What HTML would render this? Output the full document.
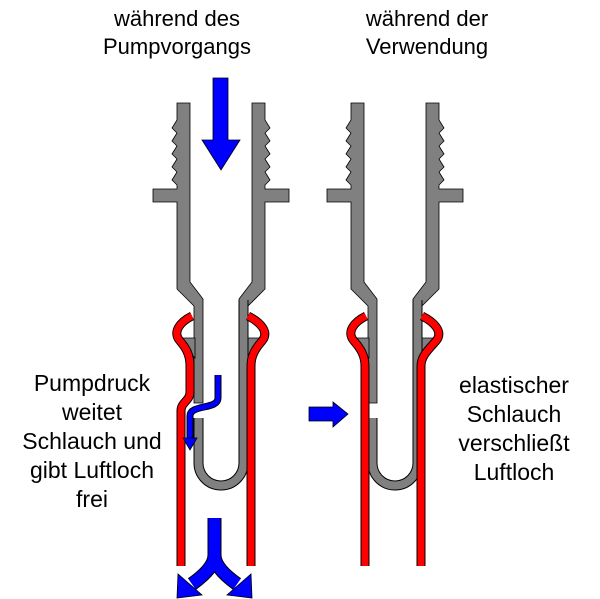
<!DOCTYPE html>
<html><head><meta charset="utf-8"><style>
html,body{margin:0;padding:0;background:#fff;}
svg{display:block;}
text{font-family:"Liberation Sans",sans-serif;font-size:22px;fill:#000;text-anchor:middle;}
</style></head><body>
<svg width="600" height="599" viewBox="0 0 600 599" xmlns="http://www.w3.org/2000/svg">
<defs>
<g id="lwall">
<polygon points="177,103 190,103 190,282 203,299 203,403 194,403 194,306 177,289 177,202 153,202 153,189 177,189 177,185 172,180 177,172 172,167 177,159 172,154 177,146 172,141 177,133 172,128 177,120 177,103" fill="#808080" stroke="#000" stroke-width="0.8"/>
<polygon points="177,338 195,338 195,358" fill="#808080" stroke="#000" stroke-width="0.8"/>
</g>
<g id="rwall">
<polygon points="265,103 252,103 252,282 239,299 239,306 248,306 265,289 265,202 289,202 289,189 265,189 265,185 270,180 265,172 270,167 265,159 270,154 265,146 270,141 265,133 270,128 265,120 265,103" fill="#808080" stroke="#000" stroke-width="0.8"/>
<polygon points="265,338 247,338 247,358" fill="#808080" stroke="#000" stroke-width="0.8"/>
</g>
<path id="u" d="M198.5,418 L198.5,463 A22.5,22.5 0 0 0 243.5,463 L243.5,300" fill="none"/>
</defs>

<!-- device 1 -->
<use href="#lwall"/>
<use href="#rwall"/>
<use href="#u" stroke="#000" stroke-width="10"/>
<use href="#u" stroke="#808080" stroke-width="8"/>
<g fill="none">
<path d="M192,316 C180,322 172,332 180,341 C187,349 190,356 190,366 L190,392 C190,401 181,402 181,411 L181,566" stroke="#000" stroke-width="9"/>
<path d="M192,316 C180,322 172,332 180,341 C187,349 190,356 190,366 L190,392 C190,401 181,402 181,411 L181,566" stroke="#f00" stroke-width="7"/>
<path d="M248,316 C260,322 270,332 262,341 C255,349 251,356 251,366 L251,566" stroke="#000" stroke-width="9"/>
<path d="M248,316 C260,322 270,332 262,341 C255,349 251,356 251,366 L251,566" stroke="#f00" stroke-width="7"/>
</g>

<!-- device 2 -->
<g transform="translate(174,0)">
<use href="#lwall"/>
<use href="#rwall"/>
<use href="#u" stroke="#000" stroke-width="10"/>
<use href="#u" stroke="#808080" stroke-width="8"/>
</g>
<g fill="none">
<path d="M366,316 C354,322 346,332 354,341 C361,349 365,356 365,366 L365,566" stroke="#000" stroke-width="9"/>
<path d="M366,316 C354,322 346,332 354,341 C361,349 365,356 365,366 L365,566" stroke="#f00" stroke-width="7"/>
<path d="M422,316 C434,322 444,332 436,341 C429,349 421,356 421,366 L421,566" stroke="#000" stroke-width="9"/>
<path d="M422,316 C434,322 444,332 436,341 C429,349 421,356 421,366 L421,566" stroke="#f00" stroke-width="7"/>
</g>

<!-- blue arrows -->
<polygon points="213,78 228,78 228,140 240,140 221,170 202,140 213,140" fill="#00f" stroke="#000" stroke-width="0.8"/>
<path d="M218,375 L218,398 C218,410 190,404 190,416 L190,440" fill="none" stroke="#000" stroke-width="7"/>
<path d="M218,375 L218,398 C218,410 190,404 190,416 L190,440" fill="none" stroke="#00f" stroke-width="5"/>
<polygon points="183,438 197,438 190,450" fill="#00f" stroke="#000" stroke-width="0.8"/>
<path d="M214.5,518 L214.5,555 Q214.5,568 192,584 M214.5,555 Q214.5,568 237,584" fill="none" stroke="#000" stroke-width="14"/>
<path d="M214.5,518 L214.5,555 Q214.5,568 192,584 M214.5,555 Q214.5,568 237,584" fill="none" stroke="#00f" stroke-width="12"/>
<polygon points="177,598 178,574 202,595" fill="#00f" stroke="#000" stroke-width="0.8"/>
<polygon points="252,598 251,574 227,595" fill="#00f" stroke="#000" stroke-width="0.8"/>
<polygon points="309,407 333,407 333,402 348,414 333,427 333,421 309,421" fill="#00f" stroke="#000" stroke-width="0.8"/>

<!-- text -->
<text x="177" y="26">während des</text>
<text x="177" y="54">Pumpvorgangs</text>
<text x="427" y="26">während der</text>
<text x="427" y="54">Verwendung</text>
<text x="92" y="391" style="font-size:23px">Pumpdruck</text>
<text x="92" y="420" style="font-size:23px">weitet</text>
<text x="92" y="449" style="font-size:23px">Schlauch und</text>
<text x="92" y="478" style="font-size:23px">gibt Luftloch</text>
<text x="92" y="507" style="font-size:23px">frei</text>
<text x="514" y="393" style="font-size:23px">elastischer</text>
<text x="514" y="422" style="font-size:23px">Schlauch</text>
<text x="514" y="451" style="font-size:23px">verschließt</text>
<text x="514" y="480" style="font-size:23px">Luftloch</text>
</svg>
</body></html>
